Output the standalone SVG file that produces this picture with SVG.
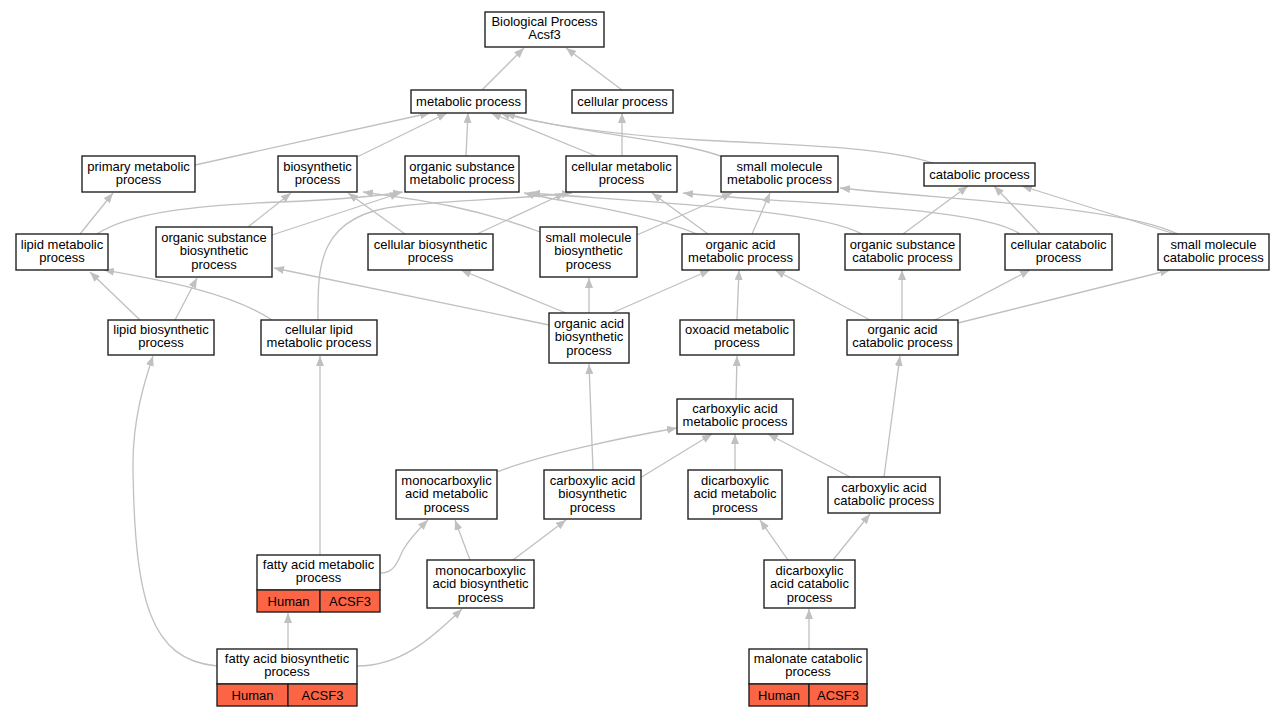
<svg xmlns="http://www.w3.org/2000/svg" width="1285" height="717" viewBox="0 0 1285 717">
<defs>
<marker id="ah" markerWidth="10" markerHeight="8" refX="10" refY="4" orient="auto" markerUnits="userSpaceOnUse"><path d="M0,0 L10,4 L0,8 z" fill="#c0c0c0"/></marker>
<style>
.n rect{fill:#fff;stroke:#222;stroke-width:1.4}
.n rect.r{fill:#fb6445}
.n line{stroke:#222;stroke-width:1.4}
text{font-family:"Liberation Sans",Arial,sans-serif;font-size:13px;text-anchor:middle;fill:#000}
#edges path{fill:none;stroke:#c0c0c0;stroke-width:1.3;marker-end:url(#ah)}
</style>
</defs>
<rect width="1285" height="717" fill="#fff"/>
<g id="edges">
<path d="M482,90 L524,48"/>
<path d="M622,90 L566,48"/>
<path d="M195,165 L430,113"/>
<path d="M357,157 L447,113"/>
<path d="M466,156 L468,113"/>
<path d="M596,156 L491,113"/>
<path d="M622,156 L622,113"/>
<path d="M723,157 C680,140 570,132 500,113"/>
<path d="M933,163 C880,146 790,145 700,140 C620,135 550,127 505,113"/>
<path d="M80,234 L113,193"/>
<path d="M97,234 C130,212 200,205 280,202 C330,200 370,197 403,192"/>
<path d="M248,227 L291,193"/>
<path d="M272,235 L400,193"/>
<path d="M405,234 L348,193"/>
<path d="M477,234 L565,193"/>
<path d="M540,232 C470,206 420,200 363,192"/>
<path d="M637,235 L732,193"/>
<path d="M697,234 C650,214 580,205 524,193"/>
<path d="M708,234 L652,193"/>
<path d="M752,234 L770,193"/>
<path d="M862,234 C820,210 660,203 530,193"/>
<path d="M903,234 L968,186"/>
<path d="M1020,234 C980,206 800,205 683,193"/>
<path d="M1040,234 L994,186"/>
<path d="M1175,234 L1022,186"/>
<path d="M1178,234 C1120,206 950,200 840,188"/>
<path d="M140,320 L90,272"/>
<path d="M175,320 L197,278"/>
<path d="M272,320 C230,292 160,280 104,270"/>
<path d="M318,320 C318,270 315,215 400,206 C460,200 530,198 572,193"/>
<path d="M549,325 L274,268"/>
<path d="M566,313 L461,270"/>
<path d="M589,313 L589,278"/>
<path d="M612,313 L710,270"/>
<path d="M737,320 L739,270"/>
<path d="M870,320 L775,270"/>
<path d="M902,320 L902,270"/>
<path d="M935,320 L1030,270"/>
<path d="M958,323 L1170,270"/>
<path d="M736,399 L737,356"/>
<path d="M884,477 L900,356"/>
<path d="M850,477 L768,434"/>
<path d="M593,470 L589,364"/>
<path d="M640,478 L712,434"/>
<path d="M735,470 L735,434"/>
<path d="M497,472 C540,455 620,438 677,428"/>
<path d="M320,555 L320,356"/>
<path d="M381,573 C395,573 398,560 403,550 C410,538 420,528 428,520"/>
<path d="M470,560 L455,520"/>
<path d="M513,560 L566,520"/>
<path d="M788,560 L760,520"/>
<path d="M833,560 L870,514"/>
<path d="M288,649 L288,613"/>
<path d="M357,666 C400,666 430,640 462,609"/>
<path d="M217,666 C150,660 135,600 133,470 C132,420 145,380 153,356"/>
<path d="M809,649 L809,609"/>
</g>
<g id="bp" class="n"><rect x="485" y="12" width="119" height="35"/><text x="544.5" y="26">Biological Process</text><text x="544.5" y="39.3">Acsf3</text></g>
<g id="metabolic" class="n"><rect x="411" y="90" width="115" height="23"/><text x="468.5" y="106">metabolic process</text></g>
<g id="cellular" class="n"><rect x="572" y="90" width="101" height="23"/><text x="622.5" y="106">cellular process</text></g>
<g id="primary" class="n"><rect x="82" y="156" width="113" height="36"/><text x="138.5" y="170.5">primary metabolic</text><text x="138.5" y="183.8">process</text></g>
<g id="biosynthetic" class="n"><rect x="278" y="156" width="79" height="36"/><text x="317.5" y="170.5">biosynthetic</text><text x="317.5" y="183.8">process</text></g>
<g id="osm" class="n"><rect x="405" y="156" width="114" height="36"/><text x="462" y="170.5">organic substance</text><text x="462" y="183.8">metabolic process</text></g>
<g id="cm" class="n"><rect x="566" y="156" width="111" height="36"/><text x="621.5" y="170.5">cellular metabolic</text><text x="621.5" y="183.8">process</text></g>
<g id="smm" class="n"><rect x="721" y="156" width="117" height="36"/><text x="779.5" y="170.5">small molecule</text><text x="779.5" y="183.8">metabolic process</text></g>
<g id="catabolic" class="n"><rect x="924" y="163" width="111" height="23"/><text x="979.5" y="179">catabolic process</text></g>
<g id="lipidm" class="n"><rect x="16" y="234" width="92" height="36"/><text x="62" y="248.5">lipid metabolic</text><text x="62" y="261.8">process</text></g>
<g id="osb" class="n"><rect x="156" y="227" width="116" height="50"/><text x="214" y="242">organic substance</text><text x="214" y="255.3">biosynthetic</text><text x="214" y="268.6">process</text></g>
<g id="cb" class="n"><rect x="368" y="234" width="125" height="36"/><text x="430.5" y="248.5">cellular biosynthetic</text><text x="430.5" y="261.8">process</text></g>
<g id="smb" class="n"><rect x="540" y="227" width="97" height="50"/><text x="588.5" y="242">small molecule</text><text x="588.5" y="255.3">biosynthetic</text><text x="588.5" y="268.6">process</text></g>
<g id="oam" class="n"><rect x="682" y="234" width="117" height="36"/><text x="740.5" y="248.5">organic acid</text><text x="740.5" y="261.8">metabolic process</text></g>
<g id="osc" class="n"><rect x="845" y="234" width="115" height="36"/><text x="902.5" y="248.5">organic substance</text><text x="902.5" y="261.8">catabolic process</text></g>
<g id="cc" class="n"><rect x="1005" y="234" width="107" height="36"/><text x="1058.5" y="248.5">cellular catabolic</text><text x="1058.5" y="261.8">process</text></g>
<g id="smc" class="n"><rect x="1158" y="234" width="111" height="36"/><text x="1213.5" y="248.5">small molecule</text><text x="1213.5" y="261.8">catabolic process</text></g>
<g id="lb" class="n"><rect x="108" y="320" width="106" height="35"/><text x="161" y="334">lipid biosynthetic</text><text x="161" y="347.3">process</text></g>
<g id="clm" class="n"><rect x="261" y="320" width="116" height="35"/><text x="319" y="334">cellular lipid</text><text x="319" y="347.3">metabolic process</text></g>
<g id="oab" class="n"><rect x="549" y="313" width="80" height="50"/><text x="589" y="328">organic acid</text><text x="589" y="341.3">biosynthetic</text><text x="589" y="354.6">process</text></g>
<g id="oxo" class="n"><rect x="680" y="320" width="114" height="35"/><text x="737" y="334">oxoacid metabolic</text><text x="737" y="347.3">process</text></g>
<g id="oac" class="n"><rect x="847" y="320" width="111" height="35"/><text x="902.5" y="334">organic acid</text><text x="902.5" y="347.3">catabolic process</text></g>
<g id="cam" class="n"><rect x="677" y="399" width="116" height="35"/><text x="735" y="413">carboxylic acid</text><text x="735" y="426.3">metabolic process</text></g>
<g id="mam" class="n"><rect x="396" y="470" width="101" height="49"/><text x="446.5" y="485">monocarboxylic</text><text x="446.5" y="498.3">acid metabolic</text><text x="446.5" y="511.6">process</text></g>
<g id="cab" class="n"><rect x="544" y="470" width="97" height="49"/><text x="592.5" y="485">carboxylic acid</text><text x="592.5" y="498.3">biosynthetic</text><text x="592.5" y="511.6">process</text></g>
<g id="dam" class="n"><rect x="688" y="470" width="94" height="49"/><text x="735" y="485">dicarboxylic</text><text x="735" y="498.3">acid metabolic</text><text x="735" y="511.6">process</text></g>
<g id="cac" class="n"><rect x="828" y="477" width="112" height="36"/><text x="884" y="491.5">carboxylic acid</text><text x="884" y="504.8">catabolic process</text></g>
<g id="fam" class="n"><rect x="257" y="555" width="123" height="35"/><text x="318.5" y="569">fatty acid metabolic</text><text x="318.5" y="582.3">process</text><rect class="r" x="257" y="590" width="63" height="22"/><rect class="r" x="320" y="590" width="60" height="22"/><text x="288.5" y="605.5">Human</text><text x="350" y="605.5">ACSF3</text></g>
<g id="mab" class="n"><rect x="427" y="560" width="107" height="48"/><text x="480.5" y="575">monocarboxylic</text><text x="480.5" y="588.3">acid biosynthetic</text><text x="480.5" y="601.6">process</text></g>
<g id="dac" class="n"><rect x="764" y="560" width="91" height="48"/><text x="809.5" y="575">dicarboxylic</text><text x="809.5" y="588.3">acid catabolic</text><text x="809.5" y="601.6">process</text></g>
<g id="fab" class="n"><rect x="217" y="649" width="140" height="35"/><text x="287" y="663">fatty acid biosynthetic</text><text x="287" y="676.3">process</text><rect class="r" x="217" y="684" width="71" height="22"/><rect class="r" x="288" y="684" width="69" height="22"/><text x="252.5" y="699.5">Human</text><text x="322.5" y="699.5">ACSF3</text></g>
<g id="malonate" class="n"><rect x="749" y="649" width="118" height="35"/><text x="808" y="663">malonate catabolic</text><text x="808" y="676.3">process</text><rect class="r" x="749" y="684" width="60" height="22"/><rect class="r" x="809" y="684" width="58" height="22"/><text x="779" y="699.5">Human</text><text x="838" y="699.5">ACSF3</text></g>
</svg>
